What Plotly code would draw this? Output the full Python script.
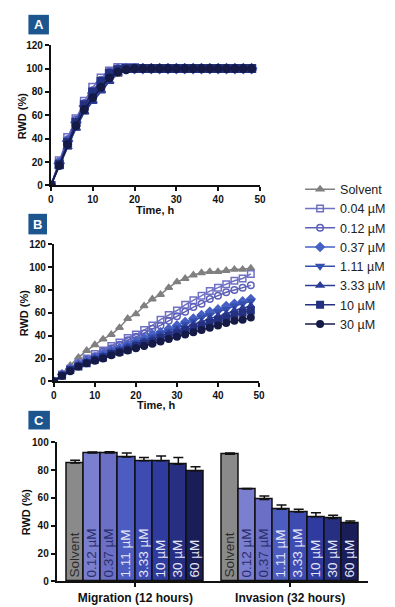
import plotly.graph_objects as go

# ---------------- data ----------------
time_h = [0, 2, 4, 6, 8, 10, 12, 14, 16, 18, 20, 22, 24, 26, 28, 30, 32, 34, 36, 38, 40, 42, 44, 46, 48]
series_names = ["Solvent", "0.04 µM", "0.12 µM", "0.37 µM", "1.11 µM", "3.33 µM", "10 µM", "30 µM"]

# Panel A
a_solvent = [0, 17, 33, 49, 63, 73, 82, 89, 95, 99, 100, 100, 100, 100, 100, 100, 100, 100, 100, 100, 100, 100, 100, 100, 100]
a_004 = [0, 21, 41, 57, 72, 84, 92, 98, 101, 101, 101, 100, 100, 100, 100, 100, 100, 100, 100, 100, 100, 100, 100, 100, 100]
a_012 = [0, 20, 39, 56, 70, 81, 90, 97, 100, 100, 100, 100, 100, 100, 100, 100, 100, 100, 100, 100, 100, 100, 100, 100, 100]
a_037 = [0, 19, 38, 54, 68, 79, 88, 95, 99, 100, 100, 100, 100, 100, 100, 100, 100, 100, 100, 100, 100, 100, 100, 100, 100]
a_111 = [0, 18, 36, 52, 66, 77, 86, 94, 98, 100, 100, 100, 100, 100, 100, 100, 100, 100, 100, 100, 100, 100, 100, 100, 100]
a_333 = [0, 16, 33, 49, 63, 72, 81, 89, 96, 99, 100, 100, 100, 100, 100, 100, 100, 100, 100, 100, 100, 100, 100, 100, 100]
a_10 = [0, 18, 37, 54, 69, 80, 89, 96, 99, 100, 100, 100, 100, 100, 100, 100, 100, 100, 100, 100, 100, 100, 100, 100, 100]
a_30 = [0, 17, 35, 51, 65, 75, 84, 92, 97, 99, 100, 100, 100, 100, 100, 100, 100, 100, 100, 100, 100, 100, 100, 100, 100]

# Panel B
b_solvent = [0, 7, 14, 21, 27, 32, 37, 41, 47, 55, 59, 66, 72, 76, 82, 87, 90, 93, 95, 96, 96, 97, 98, 98, 99]
b_004 = [0, 6, 11, 16, 20, 24, 27, 31, 34, 38, 41, 45, 49, 54, 58, 62, 67, 71, 75, 79, 82, 85, 88, 90, 94]
b_012 = [0, 6, 11, 15, 19, 22, 26, 29, 32, 36, 39, 42, 46, 49, 53, 57, 61, 65, 68, 72, 75, 78, 80, 82, 84]
b_037 = [0, 6, 11, 15, 18, 21, 24, 27, 29, 32, 35, 38, 41, 43, 46, 49, 52, 55, 58, 61, 63, 66, 68, 70, 72]
b_111 = [0, 6, 10, 14, 17, 20, 23, 26, 28, 31, 34, 36, 39, 42, 44, 47, 50, 53, 56, 58, 61, 63, 66, 68, 70]
b_333 = [0, 5, 10, 14, 17, 20, 22, 25, 27, 30, 32, 35, 37, 40, 42, 45, 47, 50, 52, 55, 57, 59, 62, 64, 66]
b_10 = [0, 5, 10, 13, 16, 19, 21, 24, 26, 28, 31, 33, 35, 38, 40, 42, 45, 47, 49, 51, 54, 56, 58, 60, 62]
b_30 = [0, 5, 9, 13, 16, 18, 20, 23, 25, 27, 29, 31, 33, 35, 37, 39, 41, 43, 45, 47, 49, 51, 53, 54, 56]

# Panel C
bar_labels = ["Solvent", "0.12 µM", "0.37 µM", "1.11 µM", "3.33 µM", "10 µM", "30 µM", "60 µM"]
group_labels = ["Migration (12 hours)", "Invasion (32 hours)"]
migration = [85, 92.2, 92.2, 89.4, 86.6, 86.6, 84.2, 79.5]
migration_err = [2.0, 0.8, 0.9, 2.8, 2.4, 3.4, 4.8, 2.9]
invasion = [91.3, 66.4, 58.8, 51.8, 49.9, 46.4, 45.2, 41.9]
invasion_err = [0.9, 0.4, 2.6, 3.0, 1.9, 3.0, 2.3, 1.4]

# ---------------- styles ----------------
line_colors = ["#808080", "#6f70c4", "#5d60b8", "#4660c4", "#3550b0", "#2b3c98", "#243080", "#151a46"]
symbols = ["triangle-up", "square-open", "circle-open", "diamond", "triangle-down", "triangle-up", "square", "circle"]
bar_colors = ["#8a8a8a", "#7b7fd0", "#6b70c6", "#4c5cc0", "#3e4cb2", "#2f3b9e", "#272f82", "#1a1e58"]
bar_text_colors = ["#2a2a2a", "#2a2e6a", "#2a2e6a", "#e4e6f8", "#e4e6f8", "#e4e6f8", "#e4e6f8", "#e4e6f8"]

FONT = "Arial, Liberation Sans, sans-serif"
W, H = 395, 607


def px_x(p):
    return p / W


def px_y(p):
    return 1 - p / H


fig = go.Figure()

a_series = [a_solvent, a_004, a_012, a_037, a_111, a_333, a_10, a_30]
b_series = [b_solvent, b_004, b_012, b_037, b_111, b_333, b_10, b_30]

for i, name in enumerate(series_names):
    fig.add_trace(go.Scatter(
        x=time_h, y=a_series[i], mode="lines+markers", name=name, showlegend=False,
        line=dict(color=line_colors[i], width=1.5),
        marker=dict(symbol=symbols[i], size=7.5, color=line_colors[i],
                    line=dict(color=line_colors[i], width=1.5)),
        xaxis="x", yaxis="y"))

for i, name in enumerate(series_names):
    fig.add_trace(go.Scatter(
        x=time_h, y=b_series[i], mode="lines+markers", name=name, showlegend=True,
        line=dict(color=line_colors[i], width=1.5),
        marker=dict(symbol=symbols[i], size=6.5, color=line_colors[i],
                    line=dict(color=line_colors[i], width=1.5)),
        xaxis="x2", yaxis="y2"))

# Panel C bars
n = len(bar_labels)
mig_pos = list(range(n))
inv_pos = [n + 1 + k for k in range(n)]
for pos, vals, errs in [(mig_pos, migration, migration_err), (inv_pos, invasion, invasion_err)]:
    fig.add_trace(go.Bar(
        x=pos, y=vals, width=1, showlegend=False,
        marker=dict(color=bar_colors, line=dict(color="#111111", width=1.5)),
        error_y=dict(type="data", array=errs, arrayminus=[0] * n, symmetric=False,
                     color="#111111", thickness=1.5, width=5),
        text=bar_labels, textangle=-90, textposition="inside", insidetextanchor="start",
        constraintext="none", cliponaxis=False,
        insidetextfont=dict(family=FONT, size=13.5, color=bar_text_colors),
        xaxis="x3", yaxis="y3"))

axis_common = dict(showline=True, linecolor="#111111", linewidth=2, ticks="outside",
                   ticklen=4, tickwidth=2, tickcolor="#111111", showgrid=False, zeroline=False,
                   tickfont=dict(family=FONT, size=10, color="#111111", weight="bold"))

fig.update_layout(
    width=W, height=H, margin=dict(l=0, r=0, t=0, b=0),
    paper_bgcolor="white", plot_bgcolor="white", bargap=0,
    xaxis=dict(domain=[px_x(49), px_x(263)], range=[0, 50], tickvals=[0, 10, 20, 30, 40, 50],
               anchor="y", **axis_common),
    yaxis=dict(domain=[px_y(183), px_y(40)], range=[0, 120], tickvals=[0, 20, 40, 60, 80, 100, 120],
               anchor="x", **axis_common),
    xaxis2=dict(domain=[px_x(52), px_x(262)], range=[0, 50], tickvals=[0, 10, 20, 30, 40, 50],
                anchor="y2", **axis_common),
    yaxis2=dict(domain=[px_y(383), px_y(243)], range=[0, 120], tickvals=[0, 20, 40, 60, 80, 100, 120],
                anchor="x2", **axis_common),
    xaxis3=dict(domain=[px_x(55), px_x(373)], range=[-1.07, 17.0],
                tickvals=[(n - 1) / 2, n + 1 + (n - 1) / 2], ticktext=group_labels,
                anchor="y3", **axis_common),
    yaxis3=dict(domain=[px_y(587), px_y(445)], range=[0, 100], tickvals=[0, 20, 40, 60, 80, 100],
                anchor="x3", **axis_common),
    legend=dict(x=px_x(304), y=px_y(172), xanchor="left", yanchor="top",
                font=dict(family=FONT, size=12.5, color="#222222"),
                bgcolor="rgba(0,0,0,0)", itemwidth=30, tracegroupgap=0),
)
fig.update_xaxes(tickfont=dict(size=12), selector=dict(anchor="y3"))

# Axis titles
title_font = dict(family=FONT, size=11, color="#111111", weight="bold")
for ytxt, xpos in [(112, 19), (313, 21), (516, 23)]:
    fig.add_annotation(x=px_x(xpos), y=px_y(ytxt), xref="paper", yref="paper", text="RWD (%)",
                       xanchor="center", yanchor="middle",
                       textangle=-90, showarrow=False, font=title_font)
for xc, yc in [(156, 208), (157, 407)]:
    fig.add_annotation(x=px_x(xc), y=px_y(yc), xref="paper", yref="paper", text="Time, h",
                       xanchor="center", yanchor="middle",
                       showarrow=False, font=title_font)

# Panel letter boxes
for letter, (x0, y0, x1, y1) in [("A", (26, 9, 47, 29)), ("B", (26, 212, 45, 233)), ("C", (26, 413, 48, 432))]:
    fig.add_shape(type="rect", xref="paper", yref="paper", x0=px_x(x0), x1=px_x(x1),
                  y0=px_y(y1), y1=px_y(y0), fillcolor="#1d558f", line=dict(width=0))
    fig.add_annotation(x=px_x((x0 + x1) / 2), y=px_y((y0 + y1) / 2), xref="paper", yref="paper",
                       xanchor="center", yanchor="middle",
                       text=letter, showarrow=False,
                       font=dict(family=FONT, size=13, color="white", weight="bold"))

fig.write_html("out.html", config={"displayModeBar": False},
               post_script="document.body.style.margin='0px';")
